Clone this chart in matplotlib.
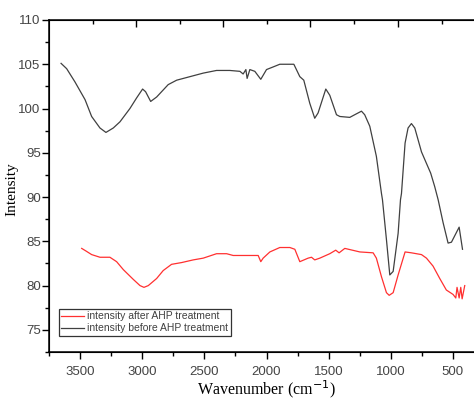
import matplotlib.pyplot as plt
import numpy as np
from matplotlib.ticker import MultipleLocator, FixedLocator

# spectrum before AHP treatment
wn_before = [3653, 3608, 3541, 3460, 3407, 3340, 3292, 3233, 3179, 3099, 3045, 2997, 2973,
             2932, 2884, 2791, 2723, 2616, 2509, 2402, 2295, 2214, 2188, 2166, 2156, 2134,
             2094, 2046, 2000, 1946, 1893, 1780, 1732, 1700, 1652, 1612, 1585, 1523, 1491,
             1437, 1410, 1330, 1290, 1236, 1210, 1169, 1116, 1075, 1067, 1035, 1008, 981,
             941, 922, 914, 885, 861, 834, 807, 753, 713, 679, 647, 619, 579, 539, 512, 450, 423]
int_before = [105.1, 104.5, 103.0, 101.0, 99.1, 97.8, 97.3, 97.8, 98.5, 100.0, 101.2, 102.2, 101.9,
              100.8, 101.3, 102.7, 103.2, 103.6, 104.0, 104.3, 104.3, 104.2, 103.9, 104.4, 103.4, 104.4,
              104.2, 103.3, 104.4, 104.7, 105.0, 105.0, 103.6, 103.2, 100.6, 98.9, 99.5, 102.2, 101.5,
              99.3, 99.1, 99.0, 99.3, 99.7, 99.3, 98.0, 94.6, 90.4, 89.7, 85.2, 81.2, 81.6,
              85.9, 89.7, 90.4, 96.1, 97.8, 98.3, 97.8, 95.1, 93.8, 92.7, 91.2, 89.7, 87.1, 84.8, 84.9, 86.6, 84.1]

# spectrum after AHP treatment
wn_after = [3487, 3452, 3407, 3340, 3260, 3206, 3152, 3072, 3018, 2986, 2951, 2884, 2831, 2764,
            2683, 2590, 2509, 2402, 2321, 2268, 2214, 2067, 2046, 2027, 1973, 1893, 1812, 1772,
            1732, 1665, 1638, 1612, 1571, 1491, 1443, 1416, 1370, 1249, 1142, 1116, 1075, 1035,
            1013, 981, 941, 885, 834, 753, 713, 660, 606, 553, 499, 477, 467, 450, 437, 426, 405]
int_after = [84.2, 83.9, 83.5, 83.2, 83.2, 82.7, 81.8, 80.7, 80.0, 79.8, 80.0, 80.8, 81.7, 82.4,
             82.6, 82.9, 83.1, 83.6, 83.6, 83.4, 83.4, 83.4, 82.7, 83.1, 83.8, 84.3, 84.3, 84.1,
             82.7, 83.1, 83.2, 82.9, 83.1, 83.6, 84.0, 83.7, 84.2, 83.8, 83.7, 83.1, 81.0, 79.2,
             78.9, 79.2, 81.2, 83.8, 83.7, 83.5, 83.1, 82.2, 80.8, 79.5, 79.0, 78.6, 79.8, 78.6, 79.8, 78.5, 80.0]

top_ticks_major = [3051, 2351, 1652, 945]
top_ticks_minor = [3396, 2697, 1998, 1298, 591]

fig = plt.figure(figsize=(4.74, 4.03), dpi=100)
ax = fig.add_axes([0.1034, 0.1266, 0.9177, 0.8238])

ax.plot(wn_after, int_after, color='#ff3030', linewidth=0.9, label='intensity after AHP treatment')
ax.plot(wn_before, int_before, color='#404040', linewidth=0.9, label='intensity before AHP treatment')

ax.set_xlim(3750, 250)
ax.set_ylim(72.5, 110)
ax.xaxis.set_major_locator(FixedLocator([3500, 3000, 2500, 2000, 1500, 1000, 500]))
ax.xaxis.set_minor_locator(MultipleLocator(250))
ax.yaxis.set_major_locator(MultipleLocator(5))
ax.yaxis.set_minor_locator(MultipleLocator(2.5))
ax.tick_params(axis='both', which='major', length=5, width=1, labelsize=9.5, labelcolor='#444444',
               direction='out')
ax.tick_params(axis='y', which='major', pad=1)
ax.tick_params(axis='x', which='major', pad=5)
ax.tick_params(axis='both', which='minor', length=3, width=1, direction='out')
for lab in ax.get_xticklabels() + ax.get_yticklabels():
    lab.set_family('Liberation Sans')
ax.spines['right'].set_visible(False)
for s in ['left', 'bottom', 'top']:
    ax.spines[s].set_linewidth(1.1)

# верхняя ось с собственными делениями
ax2 = ax.twiny()
ax2.set_xlim(ax.get_xlim())
ax2.xaxis.set_major_locator(FixedLocator(top_ticks_major))
ax2.xaxis.set_minor_locator(FixedLocator(top_ticks_minor))
ax2.tick_params(axis='x', which='major', direction='in', length=5, width=1, labeltop=False)
ax2.tick_params(axis='x', which='minor', direction='in', length=3, width=1)
ax2.spines['right'].set_visible(False)

ax.set_xlabel('Wavenumber (cm$^{-1}$)', family='Liberation Serif', fontsize=11.5)
ax.set_ylabel('Intensity', family='Liberation Serif', fontsize=11)
ax.xaxis.set_label_coords(0.499, -0.078)
ax.yaxis.set_label_coords(-0.071, 0.49)

leg = ax.legend(loc='lower left', bbox_to_anchor=(0.022, 0.048),
                prop={'family': 'Liberation Sans', 'size': 7.5}, frameon=True, fancybox=False,
                borderpad=0.25, borderaxespad=0, handlelength=2.2, handletextpad=0.3, labelspacing=0.2)
leg.get_frame().set_edgecolor('black')
leg.get_frame().set_linewidth(0.9)
for t in leg.get_texts():
    t.set_color('#404040')

plt.savefig('out.png', dpi=100)
